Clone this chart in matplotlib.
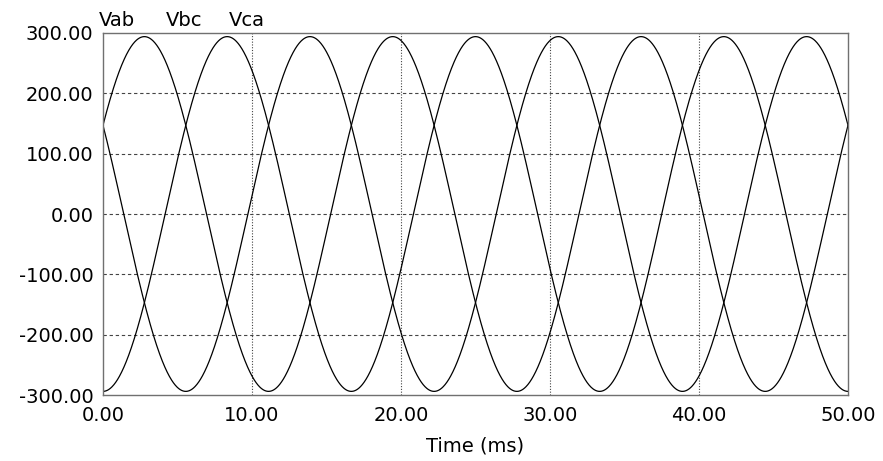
import matplotlib
matplotlib.use('Agg')
import matplotlib.pyplot as plt
import numpy as np

# values
series_names = ['Vab', 'Vbc', 'Vca']
amplitude = 294.0          # peak volts
freq_hz = 60.0             # peaks repeat every ~16.7 ms
phase_deg = [30.0, -90.0, 150.0]
t_start, t_end = 0.0, 50.0  # ms
x_ticks = [0, 10, 20, 30, 40, 50]
y_ticks = [-300, -200, -100, 0, 100, 200, 300]

plt.rcParams['font.family'] = ['DejaVu Sans']
fs = 14

fig = plt.figure(figsize=(8.83, 4.61), dpi=100, facecolor='white')
ax = fig.add_axes([103 / 883, 1 - 395 / 461, 745 / 883, 362 / 461])

t = np.linspace(t_start, t_end, 2000)
for ph in phase_deg:
    v = amplitude * np.sin(2 * np.pi * freq_hz * t / 1000.0 + np.radians(ph))
    ax.plot(t, v, color='black', lw=0.9)

ax.set_xlim(t_start, t_end)
ax.set_ylim(-300, 300)
ax.set_xticks(x_ticks)
ax.set_yticks(y_ticks)
ax.set_xticklabels(['%.2f' % x for x in x_ticks])
ax.set_yticklabels(['%.2f' % y for y in y_ticks])
ax.tick_params(length=0, labelsize=fs, colors='black')
ax.tick_params(axis='x', pad=8)
ax.tick_params(axis='y', pad=7)

for y in y_ticks[1:-1]:
    ax.axhline(y, color='#444444', lw=0.8, ls=(0, (3, 2.5)), zorder=0)
for x in x_ticks[1:-1]:
    ax.axvline(x, color='#444444', lw=0.8, ls=(0, (1, 1.5)), zorder=0)

for s in ax.spines.values():
    s.set_color('#707070')
    s.set_linewidth(1.0)

ax.set_xlabel('Time (ms)', fontsize=fs, labelpad=8)

label_x = [99, 166, 229]
for name, lx in zip(series_names, label_x):
    fig.text(lx / 883, 1 - 26 / 461, name, fontsize=fs, ha='left', va='baseline')

fig.savefig('out.png', dpi=100, facecolor='white')
